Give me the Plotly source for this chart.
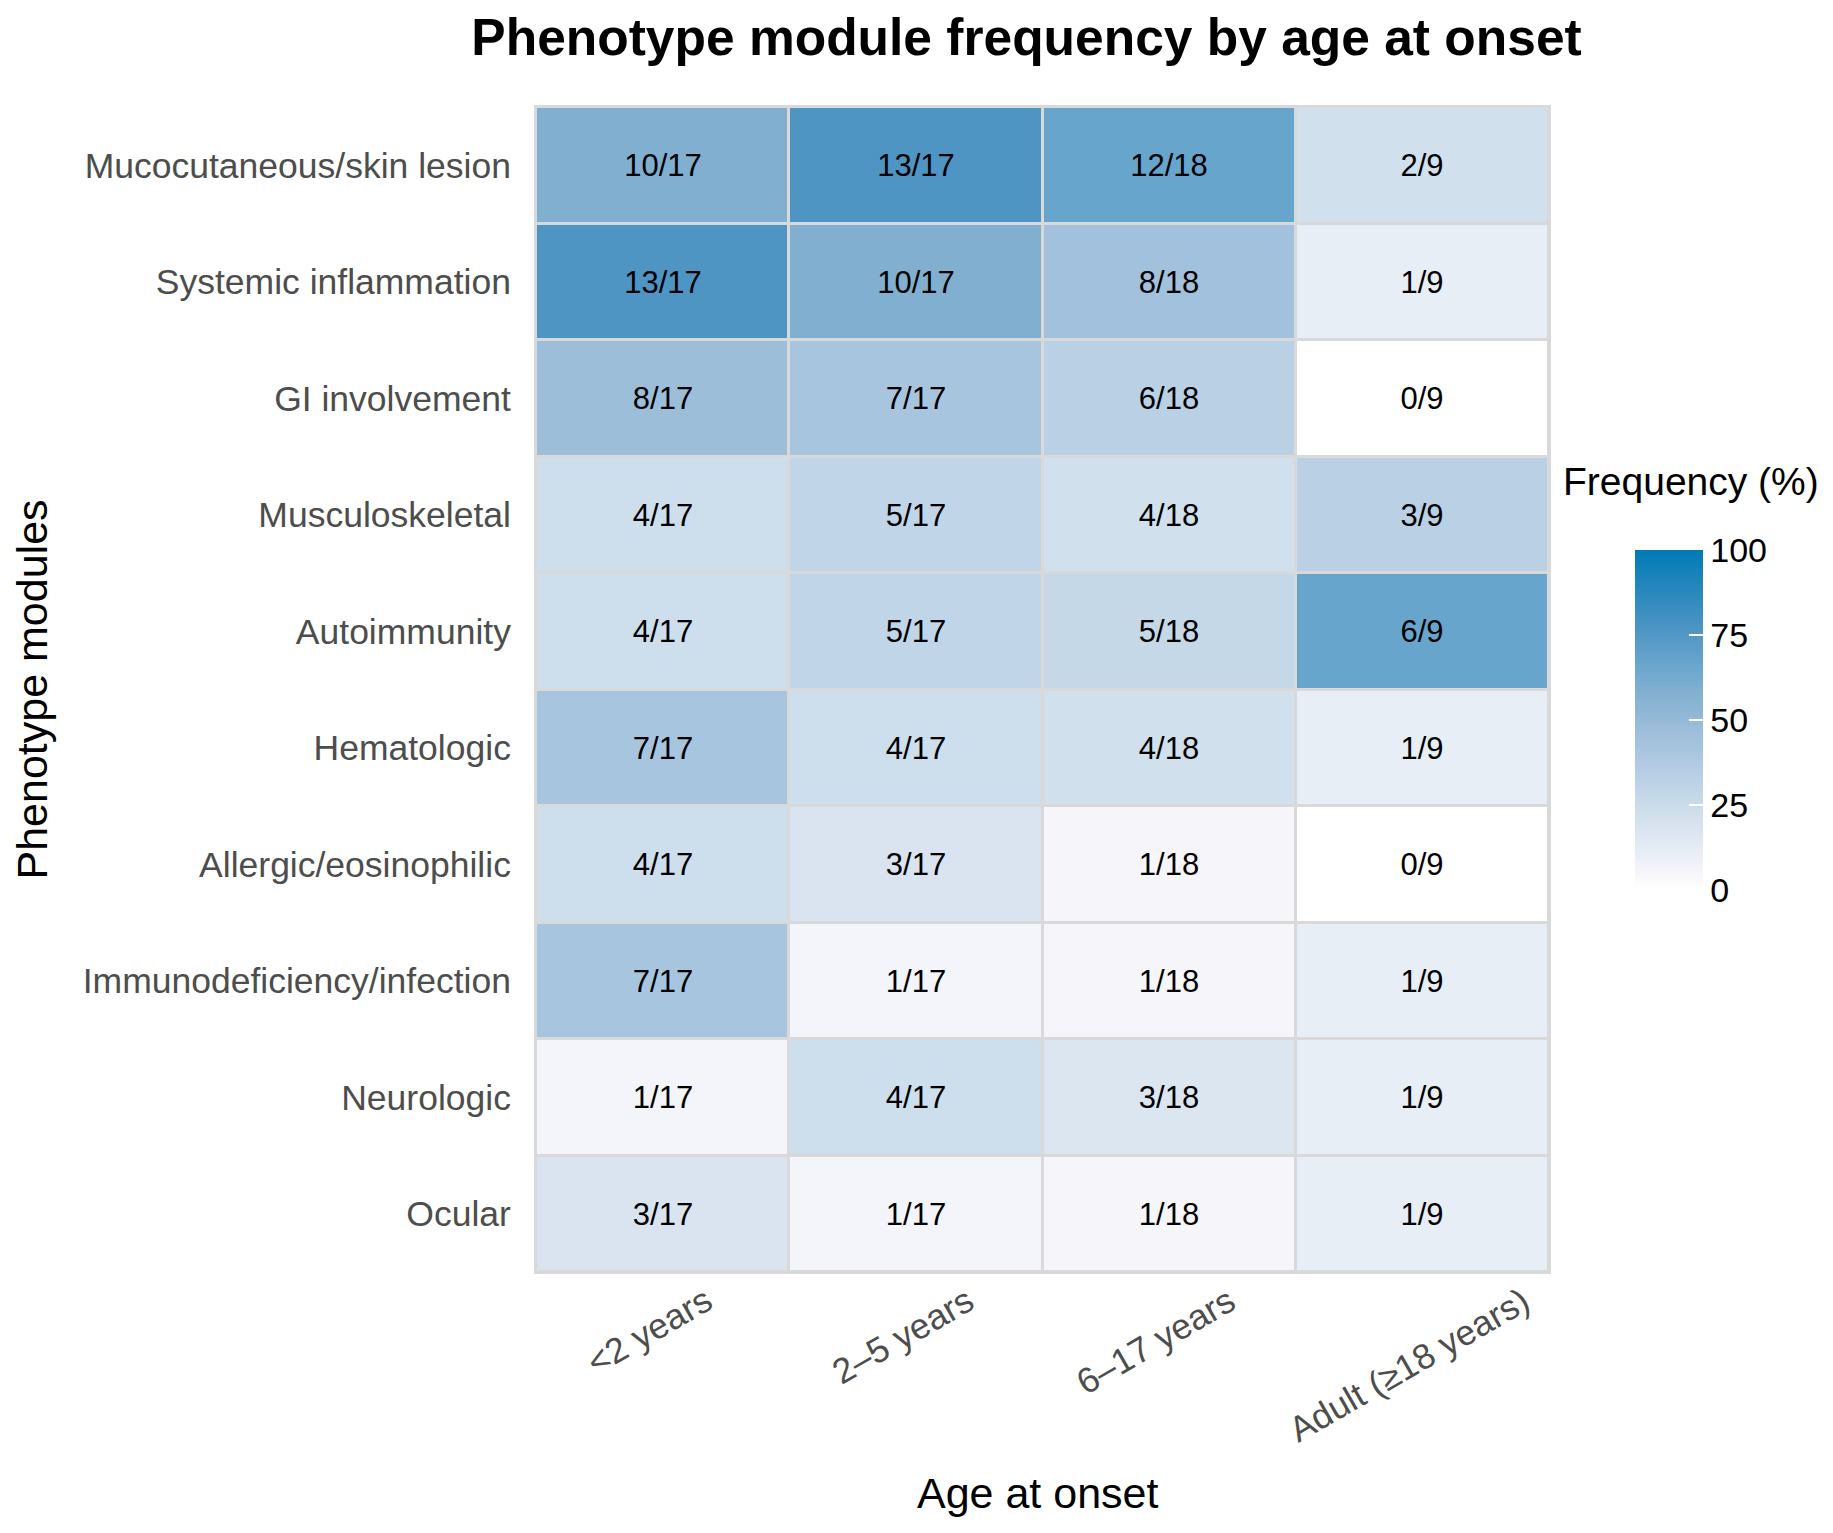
import plotly.graph_objects as go

# data
modules = [
    'Mucocutaneous/skin lesion', 'Systemic inflammation', 'GI involvement',
    'Musculoskeletal', 'Autoimmunity', 'Hematologic', 'Allergic/eosinophilic',
    'Immunodeficiency/infection', 'Neurologic', 'Ocular'
]
age_groups = ['<2 years', '2\u20135 years', '6\u201317 years', 'Adult (\u226518 years)']
group_n = [17, 17, 18, 9]

count_lt2 = [10, 13, 8, 4, 4, 7, 4, 7, 1, 3]
count_2to5 = [13, 10, 7, 5, 5, 4, 3, 1, 4, 1]
count_6to17 = [12, 8, 6, 4, 5, 4, 1, 1, 3, 1]
count_adult = [2, 1, 0, 3, 6, 1, 0, 1, 1, 1]

counts = [count_lt2, count_2to5, count_6to17, count_adult]

W, H = 1833, 1533
FONT = 'Liberation Sans'

# white -> blue fill scale (colours)
colorscale = [
    [0.0, 'rgb(255,255,255)'],
    [0.056, 'rgb(245,245,250)'],
    [0.111, 'rgb(231,238,246)'],
    [0.17, 'rgb(219,229,241)'],
    [0.23, 'rgb(206,223,236)'],
    [0.29, 'rgb(193,214,231)'],
    [0.333, 'rgb(185,208,229)'],
    [0.412, 'rgb(168,197,223)'],
    [0.46, 'rgb(159,191,218)'],
    [0.588, 'rgb(128,175,208)'],
    [0.667, 'rgb(104,165,205)'],
    [0.765, 'rgb(78,149,196)'],
    [1.0, 'rgb(0,122,181)'],
]

z = []
labels = []
for r in range(len(modules)):
    z.append([counts[c][r] / group_n[c] * 100 for c in range(len(age_groups))])
    labels.append([f'{counts[c][r]}/{group_n[c]}' for c in range(len(age_groups))])

fig = go.Figure()
fig.add_trace(go.Heatmap(
    x=age_groups,
    y=modules,
    z=z,
    text=labels,
    texttemplate='%{text}',
    textfont=dict(family=FONT, size=31, color='black'),
    colorscale=colorscale,
    zmin=0, zmax=100,
    xgap=3, ygap=3,
    hovertemplate='%{y}<br>%{x}: %{text}<extra></extra>',
    colorbar=dict(
        x=(1627 - 528) / 1013, xanchor='left',
        y=(1264 - 712) / 1165, yanchor='middle',
        thickness=68, len=340, lenmode='pixels',
        outlinewidth=0, xpad=0, ypad=0,
        tickvals=[0, 25, 50, 75, 100],
        ticks='inside', ticklen=14, tickcolor='white', tickwidth=2,
        tickprefix='\u2002',
        tickfont=dict(family=FONT, size=34, color='black'),
    ),
))

# rotated x tick labels, centred under each column
for g in age_groups:
    fig.add_annotation(
        x=g, xref='x', y=0, yref='paper', yanchor='top', xanchor='center',
        yshift=-5, xshift=-13, textangle=-30, showarrow=False,
        text=g, font=dict(family=FONT, size=35.5, color='#4D4D4D'),
    )

fig.add_annotation(
    x=0.5, xref='paper', y=0, yref='paper', yanchor='middle', xanchor='center',
    yshift=-221, xshift=-5, showarrow=False,
    text='Age at onset', font=dict(family=FONT, size=43, color='black'),
)

fig.add_annotation(
    x=(1553 - 528) / 1013, xref='paper', y=(1264 - 474) / 1165, yref='paper',
    xanchor='left', yanchor='middle', showarrow=False,
    text='Frequency (%)', font=dict(family=FONT, size=39, color='black'),
)

fig.update_layout(
    width=W, height=H,
    margin=dict(l=528, r=W - 1541, t=99, b=H - 1264),
    paper_bgcolor='white',
    plot_bgcolor='#D9D9D9',
    title=dict(
        text='<b>Phenotype module frequency by age at onset</b>',
        x=0.5 - 16 / 1013, xref='paper', xanchor='center',
        y=1 - 29 / H, yref='container', yanchor='middle',
        font=dict(family=FONT, size=51.5, color='black'),
    ),
    xaxis=dict(
        type='category', categoryorder='array', categoryarray=age_groups,
        showticklabels=False, showgrid=False, zeroline=False, ticks='',
        showline=True, mirror=True, linecolor='#D9D9D9', linewidth=2,
    ),
    yaxis=dict(
        type='category', autorange='reversed', showgrid=False, zeroline=False,
        ticks='', ticklabelstandoff=16,
        tickfont=dict(family=FONT, size=35.5, color='#4D4D4D'),
        title=dict(text='Phenotype modules', standoff=30,
                   font=dict(family=FONT, size=43, color='black')),
        showline=True, mirror=True, linecolor='#D9D9D9', linewidth=2,
    ),
)

fig.write_html('out.html')
